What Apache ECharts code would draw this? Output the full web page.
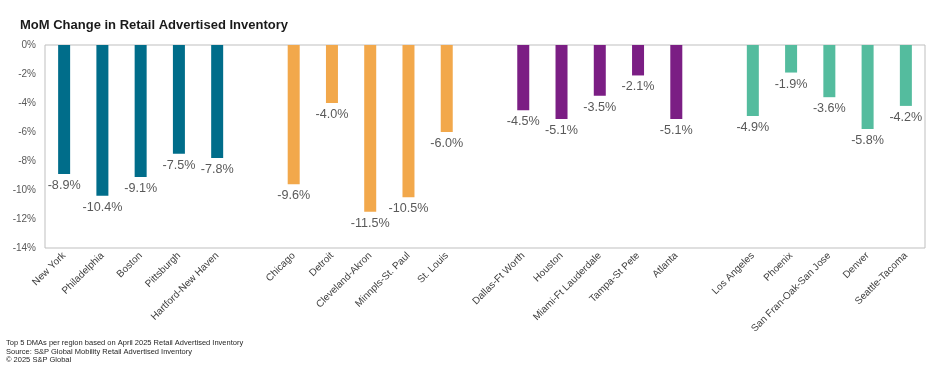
<!DOCTYPE html>
<html>
<head>
<meta charset="utf-8">
<script src="https://cdn.jsdelivr.net/npm/echarts@6/dist/echarts.min.js"></script>
<style>
html,body{margin:0;padding:0;background:#fff;}
#c{width:940px;height:382px;}
</style>
</head>
<body>
<div id="c"></div>
<script>
const northeast = ['New York', 'Philadelphia', 'Boston', 'Pittsburgh', 'Hartford-New Haven'];
const northeastValues = [-8.9, -10.4, -9.1, -7.5, -7.8];
const midwest = ['Chicago', 'Detroit', 'Cleveland-Akron', 'Minnpls-St. Paul', 'St. Louis'];
const midwestValues = [-9.6, -4.0, -11.5, -10.5, -6.0];
const south = ['Dallas-Ft Worth', 'Houston', 'Miami-Ft Lauderdale', 'Tampa-St Pete', 'Atlanta'];
const southValues = [-4.5, -5.1, -3.5, -2.1, -5.1];
const west = ['Los Angeles', 'Phoenix', 'San Fran-Oak-San Jose', 'Denver', 'Seattle-Tacoma'];
const westValues = [-4.9, -1.9, -3.6, -5.8, -4.2];
const yTickLabels = ['-14%', '-12%', '-10%', '-8%', '-6%', '-4%', '-2%', '0%'];

const groupColors = ['#006D8A', '#F2A84B', '#7B1E84', '#54BC9E'];
const groups = [[northeast, northeastValues], [midwest, midwestValues], [south, southValues], [west, westValues]];

const categories = [];
const data = [];
groups.forEach((g, gi) => {
  if (gi > 0) { categories.push(' '.repeat(gi)); data.push(null); }
  g[0].forEach((name, i) => {
    categories.push(name);
    data.push({ value: g[1][i], itemStyle: { color: groupColors[gi] } });
  });
});

const chart = echarts.init(document.getElementById('c'), null, { renderer: 'canvas' });
chart.setOption({
  animation: false,
  backgroundColor: '#fff',
  textStyle: { fontFamily: 'Liberation Sans, Arial, sans-serif' },
  title: {
    text: 'MoM Change in Retail Advertised Inventory',
    left: 15, top: 14,
    textStyle: { fontSize: 13, fontWeight: 'bold', color: '#1a1a1a', fontFamily: 'Liberation Sans, Arial, sans-serif' }
  },
  grid: {
    left: 45, right: 15, top: 45, bottom: 134,
    show: true, borderColor: '#BFBFBF', borderWidth: 1, backgroundColor: 'transparent'
  },
  xAxis: {
    type: 'category',
    data: categories,
    position: 'bottom',
    axisLine: { show: false, onZero: false },
    axisTick: { show: false },
    axisLabel: {
      rotate: 45, interval: 0, fontSize: 10, color: '#404040', margin: 6,
      fontFamily: 'Liberation Sans, Arial, sans-serif'
    }
  },
  yAxis: {
    type: 'value',
    min: -14, max: 0, interval: 2,
    splitLine: { show: false },
    axisLine: { show: false },
    axisTick: { show: false },
    axisLabel: {
      fontSize: 10, color: '#595959', margin: 9,
      fontFamily: 'Liberation Sans, Arial, sans-serif',
      formatter: v => yTickLabels[Math.round((v + 14) / 2)]
    }
  },
  series: [{
    type: 'bar',
    data: data,
    barWidth: 12,
    label: {
      show: true, position: 'bottom', distance: 5,
      fontSize: 12.6, color: '#595959',
      fontFamily: 'Liberation Sans, Arial, sans-serif',
      formatter: p => p.value.toFixed(1) + '%'
    }
  }],
  graphic: [{
    type: 'text', left: 6, top: 339,
    style: {
      text: 'Top 5 DMAs per region based on April 2025 Retail Advertised Inventory\nSource: S&P Global Mobility Retail Advertised Inventory\n\u00A9 2025 S&P Global',
      font: '7.5px "Liberation Sans", Arial, sans-serif',
      lineHeight: 8.5, fill: '#262626'
    }
  }]
});
</script>
</body>
</html>
